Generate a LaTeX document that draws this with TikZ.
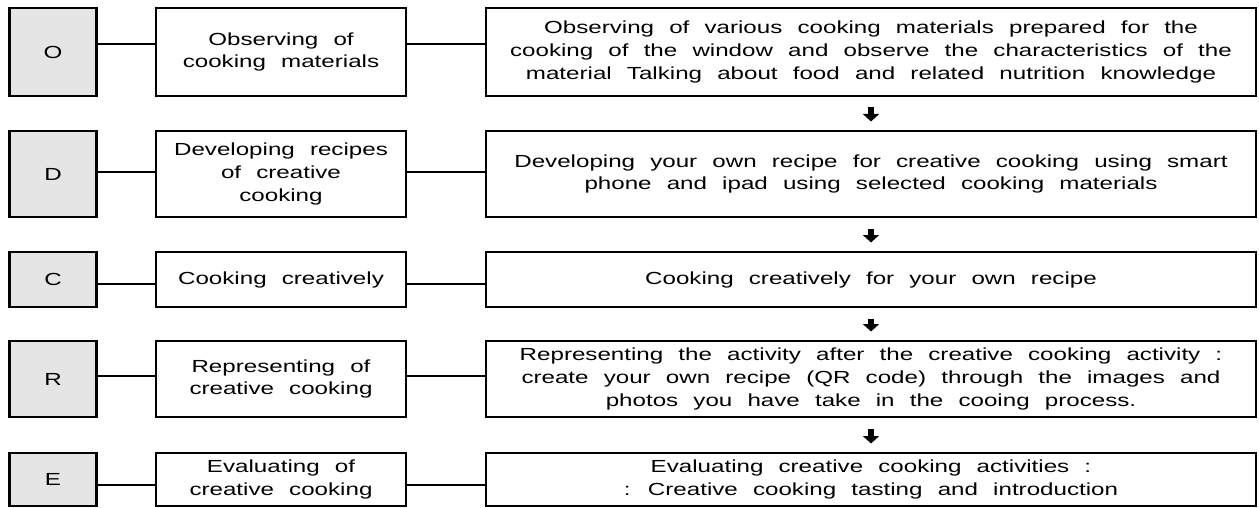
\documentclass[tikz,border=0pt]{standalone}
\usepackage{fontspec}
\setmainfont{Liberation Sans}[FakeStretch=1.38,WordSpace=2.26]
\usetikzlibrary{arrows.meta}

\definecolor{stagegray}{HTML}{E5E5E5}

\tikzset{
  letterbox/.style={draw, line width=2.4pt, fill=stagegray, minimum width=87pt, inner sep=0pt},
  namebox/.style={draw, line width=2pt, minimum width=250pt, inner sep=0pt, align=center},
  descbox/.style={draw, line width=2pt, minimum width=770pt, inner sep=0pt, align=center},
  link/.style={line width=1.7pt},
  down/.style={line width=5.5pt, -{Triangle[width=16pt,length=7.5pt]}, shorten <=10.5pt, shorten >=8.5pt}
}

\begin{document}
\begin{tikzpicture}[x=1pt, y=-1pt, font=\fontsize{17.5}{22.7}\selectfont]
  \useasboundingbox (0,0) rectangle (1259,508);

  % O
  \node[letterbox, minimum height=88pt] (O) at (53,52) {O};
  \node[namebox, minimum height=88pt] (Oname) at (281,52) {Observing of\\cooking materials};
  \node[descbox, minimum height=88pt] (Odesc) at (871,52)
    {Observing of various cooking materials prepared for the\\
     cooking of the window and observe the characteristics of the\\
     material Talking about food and related nutrition knowledge};

  % D
  \node[letterbox, minimum height=86pt] (D) at (53,174) {D};
  \node[namebox, minimum height=86pt] (Dname) at (281,174) {Developing recipes\\of creative\\cooking};
  \node[descbox, minimum height=86pt] (Ddesc) at (871,174)
    {Developing your own recipe for creative cooking using smart\\
     phone and ipad using selected cooking materials};

  % C
  \node[letterbox, minimum height=55pt] (C) at (53,279.5) {C};
  \node[namebox, minimum height=55pt] (Cname) at (281,279.5) {Cooking creatively};
  \node[descbox, minimum height=55pt] (Cdesc) at (871,279.5) {Cooking creatively for your own recipe};

  % R
  \node[letterbox, minimum height=76pt] (R) at (53,379) {R};
  \node[namebox, minimum height=76pt] (Rname) at (281,379) {Representing of\\creative cooking};
  \node[descbox, minimum height=76pt] (Rdesc) at (871,379)
    {Representing the activity after the creative cooking activity :\\
     create your own recipe (QR code) through the images and\\
     photos you have take in the cooing process.};

  % E
  \node[letterbox, minimum height=53pt] (E) at (53,479.5) {E};
  \node[namebox, minimum height=53pt] (Ename) at (281,479.5) {Evaluating of\\creative cooking};
  \node[descbox, minimum height=53pt] (Edesc) at (871,479.5)
    {Evaluating creative cooking activities :\\
     : Creative cooking tasting and introduction};

  % liaisons
  \draw[link] ([yshift=8pt]O.east) -- ([yshift=8pt]Oname.west);
  \draw[link] ([yshift=8pt]Oname.east) -- ([yshift=8pt]Odesc.west);
  \draw[link] ([yshift=2pt]D.east) -- ([yshift=2pt]Dname.west);
  \draw[link] ([yshift=2pt]Dname.east) -- ([yshift=2pt]Ddesc.west);
  \draw[link] ([yshift=-4.5pt]C.east) -- ([yshift=-4.5pt]Cname.west);
  \draw[link] ([yshift=-4.5pt]Cname.east) -- ([yshift=-4.5pt]Cdesc.west);
  \draw[link] ([yshift=3pt]R.east) -- ([yshift=3pt]Rname.west);
  \draw[link] ([yshift=3pt]Rname.east) -- ([yshift=3pt]Rdesc.west);
  \draw[link] ([yshift=-5.5pt]E.east) -- ([yshift=-5.5pt]Ename.west);
  \draw[link] ([yshift=-5.5pt]Ename.east) -- ([yshift=-5.5pt]Edesc.west);

  % fleches
  \draw[down] (Odesc.south) -- (Ddesc.north);
  \draw[down] (Ddesc.south) -- (Cdesc.north);
  \draw[down] (Cdesc.south) -- (Rdesc.north);
  \draw[down] (Rdesc.south) -- (Edesc.north);
\end{tikzpicture}
\end{document}
